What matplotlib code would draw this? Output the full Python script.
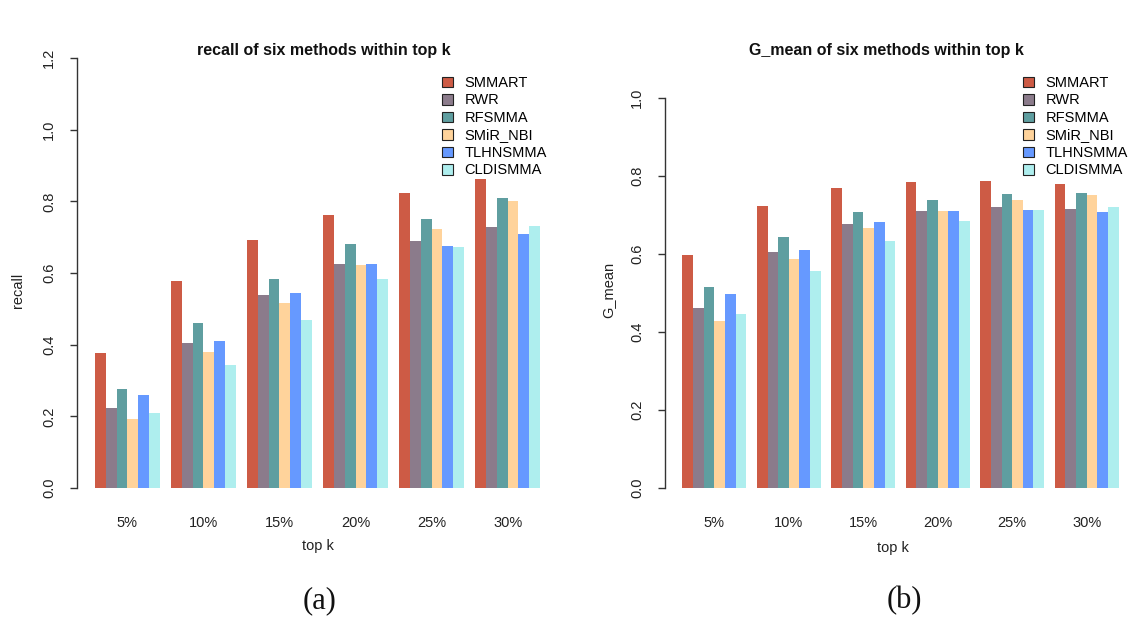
import matplotlib
matplotlib.use('Agg')
import matplotlib.pyplot as plt
from matplotlib.patches import Patch

plt.rcParams['font.family'] = ['Liberation Sans', 'DejaVu Sans']

methods = ['SMMART', 'RWR', 'RFSMMA', 'SMiR_NBI', 'TLHNSMMA', 'CLDISMMA']
colors = ['#CD5B45', '#8B7B8B', '#5F9EA0', '#FFD39B', '#6699FF', '#AEEEEE']
topk = ['5%', '10%', '15%', '20%', '25%', '30%']

# rows = methods, columns = top k
recall = [
    [0.377, 0.577, 0.692, 0.763, 0.823, 0.862],
    [0.224, 0.405, 0.539, 0.626, 0.688, 0.728],
    [0.277, 0.460, 0.584, 0.682, 0.752, 0.808],
    [0.193, 0.380, 0.516, 0.623, 0.722, 0.800],
    [0.259, 0.410, 0.543, 0.626, 0.676, 0.710],
    [0.209, 0.343, 0.468, 0.584, 0.672, 0.732],
]
g_mean = [
    [0.597, 0.723, 0.769, 0.783, 0.787, 0.780],
    [0.460, 0.605, 0.677, 0.709, 0.721, 0.714],
    [0.515, 0.644, 0.706, 0.738, 0.753, 0.755],
    [0.427, 0.586, 0.665, 0.709, 0.737, 0.750],
    [0.498, 0.609, 0.681, 0.709, 0.713, 0.707],
    [0.445, 0.556, 0.632, 0.683, 0.711, 0.719],
]

W, H = 1133, 617
fig = plt.figure(figsize=(W / 100, H / 100), dpi=100)


def px_axes(x0, x1, ytop, ybot):
    return fig.add_axes([x0 / W, (H - ybot) / H, (x1 - x0) / W, (ybot - ytop) / H])


def draw_panel(ax, data, ymax, yticks):
    n = len(methods)
    for j in range(n):
        lefts = [1 + (n + 1) * g + j for g in range(len(topk))]
        ax.bar(lefts, data[j], width=1, align='edge', color=colors[j],
               edgecolor='none', linewidth=0)
    ax.set_xlim(-0.64, 43.64)
    ax.set_ylim(0, ymax)
    for s in ['top', 'right', 'bottom']:
        ax.spines[s].set_visible(False)
    ax.spines['left'].set_color('#333333')
    ax.spines['left'].set_linewidth(1)
    ax.set_yticks(yticks)
    ax.set_yticklabels(['%.1f' % t for t in yticks], rotation=90, va='center',
                       fontsize=10.5, color='#222222')
    ax.tick_params(axis='y', length=5, width=1, color='#333333', pad=10)
    centers = [1 + (n + 1) * g + n / 2 for g in range(len(topk))]
    ax.set_xticks(centers)
    ax.set_xticklabels(topk, fontsize=10.5, color='#222222')
    ax.tick_params(axis='x', length=0, pad=20)


def add_legend(x, y):
    handles = [Patch(facecolor=c, edgecolor='#222222', linewidth=0.8) for c in colors]
    fig.legend(handles, methods, loc='upper left', bbox_to_anchor=(x / W, (H - y) / H),
               frameon=False, fontsize=10.5, handlelength=0.75, handleheight=0.75,
               handletextpad=0.8, labelspacing=0.24, borderpad=0, borderaxespad=0)


ax1 = px_axes(77, 558, 58, 488)
draw_panel(ax1, recall, 1.2, [0.0, 0.2, 0.4, 0.6, 0.8, 1.0, 1.2])
add_legend(442, 76)
fig.text(324 / W, (H - 50) / H, 'recall of six methods within top k', ha='center',
         va='center', fontsize=11.5, fontweight='bold', color='#111111')
fig.text(18 / W, (H - 290) / H, 'recall', rotation=90, ha='center', va='center',
         fontsize=10.5, color='#222222')
fig.text(318 / W, (H - 546) / H, 'top k', ha='center', va='center', fontsize=10.5,
         color='#222222')
fig.text(320 / W, (H - 601) / H, '(a)', ha='center', va='center', fontsize=22,
         family='Liberation Serif', color='#111111')

ax2 = px_axes(665, 1136, 97.7, 488)
draw_panel(ax2, g_mean, 1.0, [0.0, 0.2, 0.4, 0.6, 0.8, 1.0])
add_legend(1023, 76)
fig.text(886 / W, (H - 50) / H, 'G_mean of six methods within top k', ha='center',
         va='center', fontsize=11.5, fontweight='bold', color='#111111')
fig.text(608 / W, (H - 290) / H, 'G_mean', rotation=90, ha='center', va='center',
         fontsize=10.5, color='#222222')
fig.text(893 / W, (H - 548) / H, 'top k', ha='center', va='center', fontsize=10.5,
         color='#222222')
fig.text(904 / W, (H - 601) / H, '(b)', ha='center', va='center', fontsize=22,
         family='Liberation Serif', color='#111111')

fig.savefig('out.png', dpi=100)
